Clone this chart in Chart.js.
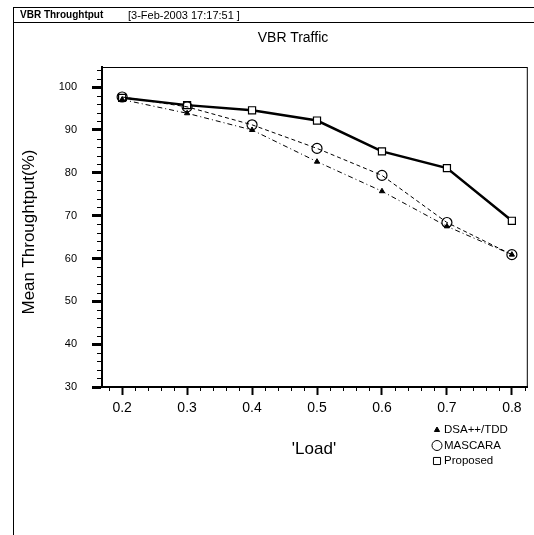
<!DOCTYPE html>
<html>
<head>
<meta charset="utf-8">
<script src="https://cdn.jsdelivr.net/npm/chart.js@4/dist/chart.umd.min.js"></script>
<style>
  html, body { margin: 0; padding: 0; background: #fff; }
  #wrap { position: relative; width: 534px; height: 535px; overflow: hidden; font-family: "Liberation Sans", Arial, sans-serif; color: #000; }
  #wrap canvas { position: absolute; left: 0; top: 0; }
  .frame-left { position: absolute; left: 13px; top: 7px; height: 528px; border-left: 1px solid #000; }
  .header { position: absolute; left: 13px; top: 7px; width: 521px; height: 14px; border-top: 1px solid #000; border-bottom: 1px solid #000; font-size: 10px; line-height: 14px; white-space: nowrap; }
  .header .name { position: absolute; left: 7px; font-weight: bold; }
  .header .date { position: absolute; left: 115px; font-size: 11px; }
  .title { position: absolute; left: 193px; width: 200px; top: 29px; text-align: center; font-size: 14px; }
  .ytitle { position: absolute; left: 29px; top: 232px; width: 220px; margin-left: -110px; text-align: center; font-size: 17px; line-height: 20px; margin-top: -10px; transform: rotate(-90deg); }
  .xtitle { position: absolute; left: 264px; width: 100px; top: 439px; text-align: center; font-size: 17px; }
</style>
</head>
<body>
<div id="wrap">
  <canvas id="chart" width="534" height="535"></canvas>
  <div class="frame-left"></div>
  <div class="header"><span class="name">VBR Throughtput</span><span class="date">[3-Feb-2003 17:17:51 ]</span></div>
  <div class="title">VBR Traffic</div>
  <div class="ytitle">Mean Throughtput(%)</div>
  <div class="xtitle">'Load'</div>
</div>
<script>
// values
const loads = [0.2, 0.3, 0.4, 0.5, 0.6, 0.7, 0.8];
const dsaTdd = [97.1, 93.9, 90.0, 82.6, 75.7, 67.5, 60.9];
const mascara = [97.7, 95.4, 91.2, 85.7, 79.4, 68.4, 60.9];
const proposed = [97.5, 95.8, 94.6, 92.2, 85.0, 81.1, 68.8];
const seriesNames = ['DSA++/TDD', 'MASCARA', 'Proposed'];
const xTickLabels = [0.2, 0.3, 0.4, 0.5, 0.6, 0.7, 0.8];
const yTickLabels = [30, 40, 50, 60, 70, 80, 90, 100];

const toPoints = (vals) => loads.map((x, i) => ({ x: x, y: vals[i] }));

// plot box + minor ticks
const boxPlugin = {
  id: 'box',
  beforeDatasetsDraw(chart) {
    const { ctx, chartArea: a } = chart;
    ctx.save();
    ctx.strokeStyle = '#000';
    ctx.lineWidth = 1;
    ctx.strokeRect(a.left, a.top + 0.5, a.right - a.left - 0.5, a.bottom - a.top);
    ctx.restore();
  },
  afterDraw(chart) {
    const { ctx, chartArea: a, scales } = chart;
    ctx.save();
    ctx.strokeStyle = '#000';
    ctx.lineWidth = 1;
    ctx.beginPath();
    for (let k = 9; k <= 41; k++) {
      if (k % 5 === 0) continue;
      const px = Math.round(scales.x.getPixelForValue(k * 0.02)) + 0.5;
      ctx.moveTo(px, a.bottom);
      ctx.lineTo(px, a.bottom + 4);
    }
    for (let v = 32; v <= 104; v += 2) {
      if (v % 10 === 0) continue;
      const py = Math.round(scales.y.getPixelForValue(v)) + 0.5;
      ctx.moveTo(a.left - 5, py);
      ctx.lineTo(a.left, py);
    }
    ctx.stroke();
    ctx.restore();
  }
};

// small legend under the x axis, bottom right
const legendPlugin = {
  id: 'smallLegend',
  afterDraw(chart) {
    const ctx = chart.ctx;
    const x0 = 437, y0 = 430, row = 15.5;
    ctx.save();
    ctx.font = '11.5px "Liberation Sans", Arial, sans-serif';
    ctx.textBaseline = 'middle';
    ctx.fillStyle = '#000';
    chart.data.datasets.forEach((ds, i) => {
      const y = y0 + i * row;
      ctx.strokeStyle = '#000';
      ctx.fillStyle = ds.pointBackgroundColor;
      ctx.lineWidth = 1;
      Chart.helpers.drawPoint(ctx, {
        pointStyle: ds.pointStyle,
        radius: ds.legendRadius,
        rotation: 0,
        borderWidth: 1
      }, x0, y);
      ctx.fillStyle = '#000';
      ctx.fillText(ds.label, x0 + 7, y);
    });
    ctx.restore();
  }
};

new Chart(document.getElementById('chart'), {
  type: 'line',
  data: {
    datasets: [
      {
        label: seriesNames[0],
        data: toPoints(dsaTdd),
        borderColor: '#000',
        borderWidth: 1,
        borderDash: [5, 3, 1, 3],
        pointStyle: 'triangle',
        pointRadius: 3,
        legendRadius: 3,
        pointBackgroundColor: '#000',
        pointBorderColor: '#000',
        pointBorderWidth: 1
      },
      {
        label: seriesNames[1],
        data: toPoints(mascara),
        borderColor: '#000',
        borderWidth: 1,
        borderDash: [4, 3],
        pointStyle: 'circle',
        pointRadius: 5,
        legendRadius: 5,
        pointBackgroundColor: 'rgba(255,255,255,0)',
        pointBorderColor: '#000',
        pointBorderWidth: 1.2
      },
      {
        label: seriesNames[2],
        data: toPoints(proposed),
        borderColor: '#000',
        borderWidth: 2.5,
        pointStyle: 'rect',
        pointRadius: 5,
        legendRadius: 5,
        pointBackgroundColor: '#fff',
        pointBorderColor: '#000',
        pointBorderWidth: 1.2
      }
    ]
  },
  options: {
    responsive: false,
    animation: false,
    devicePixelRatio: 1,
    layout: { padding: { left: 0, top: 67, right: 5, bottom: 0 } },
    plugins: {
      legend: { display: false },
      tooltip: { enabled: false },
      title: { display: false }
    },
    scales: {
      x: {
        type: 'linear',
        min: 0.169,
        max: 0.8245,
        afterBuildTicks: (s) => { s.ticks = xTickLabels.map(v => ({ value: v })); },
        afterFit: (s) => { s.height = 148; },
        ticks: {
          callback: (v) => Number(v).toFixed(1),
          color: '#000',
          font: { family: '"Liberation Sans", Arial, sans-serif', size: 14 },
          padding: 5,
          maxRotation: 0,
          autoSkip: false
        },
        grid: { drawOnChartArea: false, tickLength: 8, tickWidth: 2, tickColor: '#000' },
        border: { color: '#000', width: 2 }
      },
      y: {
        min: 30,
        max: 104.7,
        afterBuildTicks: (s) => { s.ticks = yTickLabels.map(v => ({ value: v })); },
        afterFit: (s) => { s.width = 102; },
        ticks: {
          callback: (v) => String(v),
          color: '#000',
          font: { family: '"Liberation Sans", Arial, sans-serif', size: 11 },
          padding: 15
        },
        grid: { drawOnChartArea: false, tickLength: 10, tickWidth: 3, tickColor: '#000' },
        border: { color: '#000', width: 2 }
      }
    }
  },
  plugins: [boxPlugin, legendPlugin]
});
</script>
</body>
</html>
